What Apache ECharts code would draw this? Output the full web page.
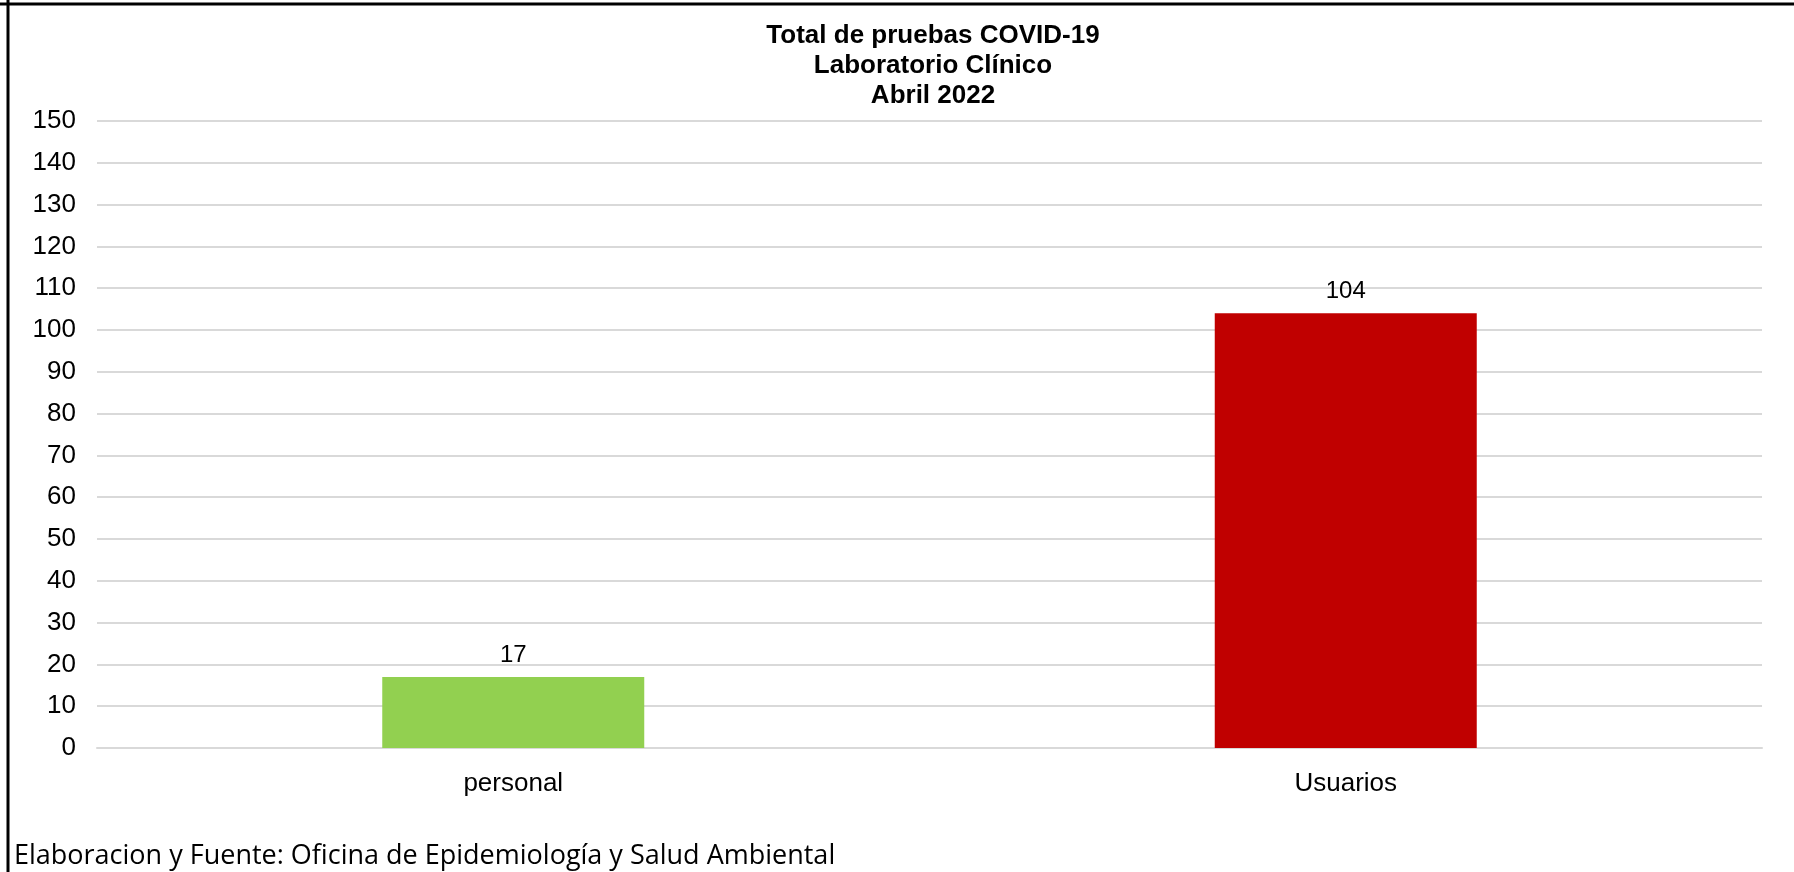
<!DOCTYPE html>
<html>
<head>
<meta charset="utf-8">
<script src="https://cdn.jsdelivr.net/npm/echarts@6/dist/echarts.min.js"></script>
<style>
html,body{margin:0;padding:0;background:#fff;}
#chart{width:1794px;height:872px;}
</style>
</head>
<body>
<div id="chart"></div>
<script>
const titleLines = ['Total de pruebas COVID-19', 'Laboratorio Clínico', 'Abril 2022'];
const categories = ['personal', 'Usuarios'];
const values = [17, 104];
const barColors = ['#92D050', '#C00000'];
const yTicks = {min: 0, max: 150, interval: 10};
const footer = 'Elaboracion y Fuente: Oficina de Epidemiología y Salud Ambiental';

const chart = echarts.init(document.getElementById('chart'), null, {renderer: 'canvas'});
chart.setOption({
  backgroundColor: '#ffffff',
  animation: false,
  title: {
    text: titleLines.join('\n'),
    left: 933,
    top: 21,
    padding: 0,
    textAlign: 'center',
    textStyle: {
      fontFamily: 'Liberation Sans, Arial, sans-serif',
      fontWeight: 'bold',
      fontSize: 26,
      lineHeight: 30,
      color: '#000000'
    }
  },
  grid: {
    left: 97, right: 32, top: 121, bottom: 124,
    containLabel: false,
    outerBoundsMode: 'none'
  },
  xAxis: {
    type: 'category',
    data: categories,
    axisLine: {show: true, lineStyle: {color: '#d9d9d9', width: 2}},
    axisTick: {show: false},
    axisLabel: {
      margin: 23,
      fontFamily: 'Liberation Sans, Arial, sans-serif',
      fontSize: 26,
      color: '#000000'
    }
  },
  yAxis: {
    type: 'value',
    min: yTicks.min, max: yTicks.max, interval: yTicks.interval,
    axisLine: {show: false},
    axisTick: {show: false},
    splitLine: {show: true, lineStyle: {color: '#d9d9d9', width: 2}},
    axisLabel: {
      margin: 21,
      fontFamily: 'Liberation Sans, Arial, sans-serif',
      fontSize: 26,
      color: '#000000'
    }
  },
  series: [{
    type: 'bar',
    data: values.map((v, i) => ({value: v, itemStyle: {color: barColors[i]}})),
    barWidth: 262,
    label: {
      show: true,
      position: 'top',
      distance: 10,
      fontFamily: 'Liberation Sans, Arial, sans-serif',
      fontSize: 24,
      color: '#000000'
    }
  }],
  graphic: [
    {type: 'line', shape: {x1: 0, y1: 4, x2: 1794, y2: 4}, style: {stroke: '#000', lineWidth: 3}, silent: true},
    {type: 'line', shape: {x1: 8, y1: 0, x2: 8, y2: 872}, style: {stroke: '#000', lineWidth: 3}, silent: true},
    {
      type: 'text', left: 14, top: 843,
      style: {
        text: footer,
        fontFamily: 'Open Sans, Noto Sans, sans-serif',
        fontSize: 27,
        fill: '#000000'
      }
    }
  ]
});
</script>
</body>
</html>
